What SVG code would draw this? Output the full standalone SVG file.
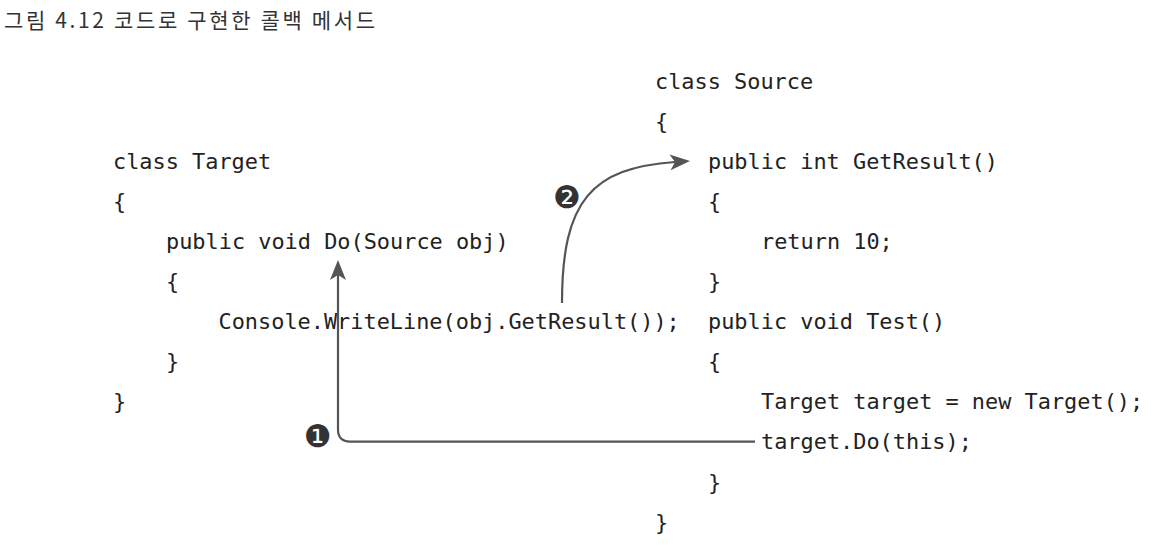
<svg xmlns="http://www.w3.org/2000/svg" width="1156" height="550" viewBox="0 0 1156 550">
<style>
.code{font-family:"DejaVu Sans Mono","Liberation Mono",monospace;font-size:21.9px;fill:#222}
.title{font-family:"Noto Sans CJK KR","Noto Sans",sans-serif;font-size:21px;fill:#333}
.conn{fill:none;stroke:#555;stroke-width:2.2}
.num{font-family:"DejaVu Sans",sans-serif;font-size:31px;fill:#333}
</style>
<defs>
<marker id="ah" viewBox="-6 -9 22 18" refX="0" refY="0" markerWidth="22" markerHeight="18" markerUnits="userSpaceOnUse" orient="auto">
<path d="M15,0 L-5,-8 L0,0 L-5,8 Z" fill="#555"/>
</marker>
</defs>
<rect width="1156" height="550" fill="#fff"/>
<text class="title" x="4" y="28" textLength="371" lengthAdjust="spacing">그림 4.12 코드로 구현한 콜백 메서드</text>

<g id="target">
<text class="code" x="113" y="168.7">class Target</text>
<text class="code" x="113" y="208.8">{</text>
<text class="code" x="166" y="248.9">public void Do(Source obj)</text>
<text class="code" x="166" y="289">{</text>
<text class="code" x="218.5" y="329.1">Console.WriteLine(obj.GetResult());</text>
<text class="code" x="166" y="369.2">}</text>
<text class="code" x="113" y="409.3">}</text>
</g>

<g id="source">
<text class="code" x="655" y="88.5">class Source</text>
<text class="code" x="655" y="128.6">{</text>
<text class="code" x="708" y="168.7">public int GetResult()</text>
<text class="code" x="708" y="208.8">{</text>
<text class="code" x="761" y="248.9">return 10;</text>
<text class="code" x="708" y="289">}</text>
<text class="code" x="708" y="329.1">public void Test()</text>
<text class="code" x="708" y="369.2">{</text>
<text class="code" x="761" y="409.3">Target target = new Target();</text>
<text class="code" x="761" y="449.4">target.Do(this);</text>
<text class="code" x="708" y="489.5">}</text>
<text class="code" x="655" y="529.6">}</text>
</g>

<g id="connectors">
<path class="conn" d="M755 441.6 H350 Q338 441.6 338 429.6 V275" marker-end="url(#ah)"/>
<path class="conn" d="M562 303 C562 200 592 168 675 162" marker-end="url(#ah)"/>
</g>

<g id="step1"><text class="num" x="318" y="447" text-anchor="middle">❶</text></g>
<g id="step2"><text class="num" x="567" y="208" text-anchor="middle">❷</text></g>
</svg>
